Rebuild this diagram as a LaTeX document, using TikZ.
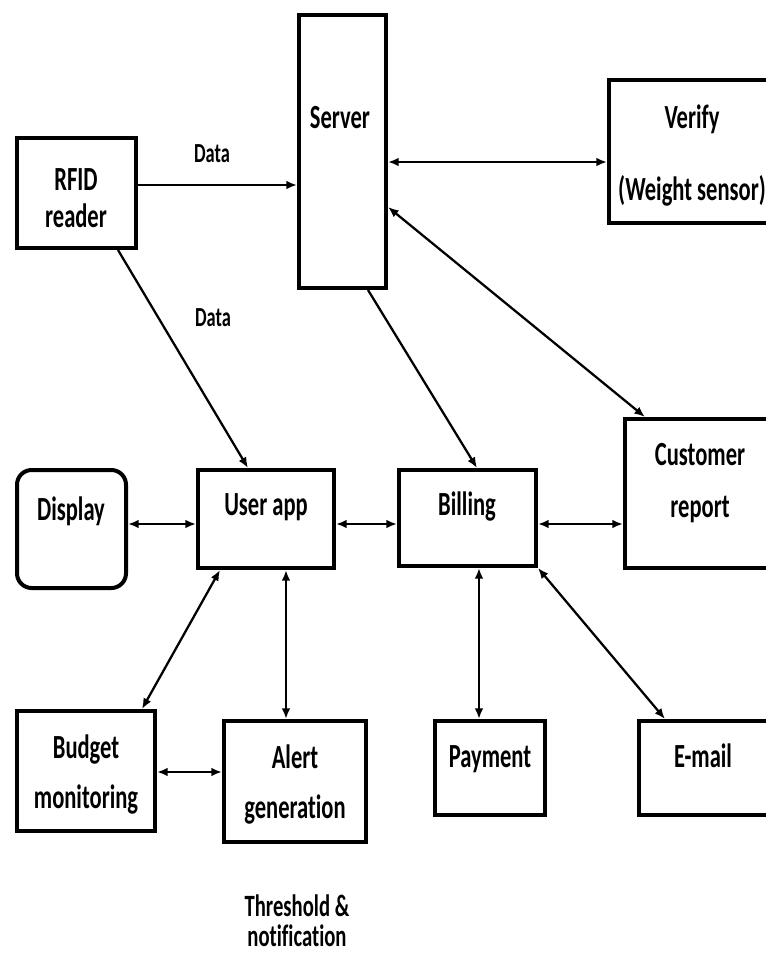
\documentclass[tikz,border=0pt]{standalone}
\usepackage{graphicx}
\usepackage{fontspec}
\setmainfont{Carlito}[Ligatures=NoCommon]
\usetikzlibrary{arrows.meta}
\newcommand{\tx}[1]{\scalebox{1}[1.5]{#1}}
\begin{document}
\begin{tikzpicture}[x=0.75pt,y=-0.75pt,
  box/.style={draw, line width=3pt, rectangle, inner sep=0pt, outer sep=auto},
  lbl/.style={anchor=base, inner sep=0pt, font=\fontsize{16.9}{18}\selectfont\bfseries},
  small/.style={anchor=base, inner sep=0pt, font=\fontsize{13.8}{15}\selectfont\bfseries},
  note/.style={anchor=base, inner sep=0pt, font=\fontsize{15.5}{17}\selectfont\bfseries},
  arr/.style={line width=1.7pt, -{Latex[length=8pt,width=6.5pt]}},
  darr/.style={line width=1.7pt, {Latex[length=8pt,width=6.5pt]}-{Latex[length=8pt,width=6.5pt]}}]
\clip (0,0) rectangle (766,954);
\fill[white] (0,0) rectangle (766,954);
% boxes
\node[box, minimum width=89.25pt, minimum height=82.5pt] (rfid) at (76.5,193) {};
\node[box, minimum width=65.25pt, minimum height=204.75pt] (server) at (342.5,151.5) {};
\node[box, minimum width=128.25pt, minimum height=107.25pt] (verify) at (694.5,151.5) {};
\node[box, rounded corners=11pt, minimum width=81.75pt, minimum height=88.5pt] (display) at (71.5,529) {};
\node[box, minimum width=102pt, minimum height=73.5pt] (userapp) at (266,519) {};
\node[box, minimum width=102.75pt, minimum height=72pt] (billing) at (467.5,518) {};
\node[box, minimum width=116.25pt, minimum height=111.75pt] (customer) at (702.5,493.5) {};
\node[box, minimum width=103.5pt, minimum height=90pt] (budget) at (86,771) {};
\node[box, minimum width=106.5pt, minimum height=90.75pt] (alert) at (295,781.5) {};
\node[box, minimum width=82.5pt, minimum height=70.5pt] (payment) at (490,768) {};
\node[box, minimum width=105.75pt, minimum height=70.5pt] (email) at (709.5,768) {};
% texts
\node[lbl] (t-rfid1) at (76,190) {\tx{RFID}};
\node[lbl] (t-rfid2) at (76,227) {\tx{reader}};
\node[lbl] (t-server) at (340,128) {\tx{Server}};
\node[lbl] (t-verify1) at (692,128) {\tx{Verify}};
\node[lbl] (t-verify2) at (692,200) {\tx{(Weight sensor)}};
\node[lbl] (t-display) at (71,520) {\tx{Display}};
\node[lbl] (t-userapp) at (266,515) {\tx{User app}};
\node[lbl] (t-billing) at (467,515) {\tx{Billing}};
\node[lbl] (t-cust1) at (700,465) {\tx{Customer}};
\node[lbl] (t-cust2) at (700,517) {\tx{report}};
\node[lbl] (t-budget1) at (86,758) {\tx{Budget}};
\node[lbl] (t-budget2) at (86,808) {\tx{monitoring}};
\node[lbl] (t-alert1) at (295,768) {\tx{Alert}};
\node[lbl] (t-alert2) at (295,818) {\tx{generation}};
\node[lbl] (t-payment) at (490,767) {\tx{Payment}};
\node[lbl] (t-email) at (703,767) {\tx{E-mail}};
\node[small] (d1) at (212,162) {\tx{Data}};
\node[small] (d2) at (213,326) {\tx{Data}};
\node[note] (n1) at (297,916) {\tx{Threshold \&}};
\node[note] (n2) at (297,946) {\tx{notification}};
% connectors
\draw[arr] (rfid.east |- 0,185) -- (server.west |- 0,185);
\draw[darr] (server.east |- 0,162) -- (verify.west |- 0,162);
\draw[darr] (server.east |- 0,207) -- (customer.north -| 645,0);
\draw[arr] (rfid.south -| 118,0) -- (userapp.north -| 248,0);
\draw[arr] (server.south -| 368,0) -- (billing.north -| 477,0);
\draw[darr] (display.east |- 0,524) -- (userapp.west |- 0,524);
\draw[darr] (userapp.east |- 0,524) -- (billing.west |- 0,524);
\draw[darr] (billing.east |- 0,524) -- (customer.west |- 0,524);
\draw[darr] (userapp.south -| 220,0) -- (budget.north -| 142,0);
\draw[darr] (userapp.south -| 286,0) -- (alert.north -| 286,0);
\draw[darr] (budget.east |- 0,772) -- (alert.west |- 0,772);
\draw[darr] (billing.south -| 479,0) -- (payment.north -| 479,0);
\draw[darr] (billing.south east) -- (email.north -| 665,0);
\end{tikzpicture}
\end{document}
